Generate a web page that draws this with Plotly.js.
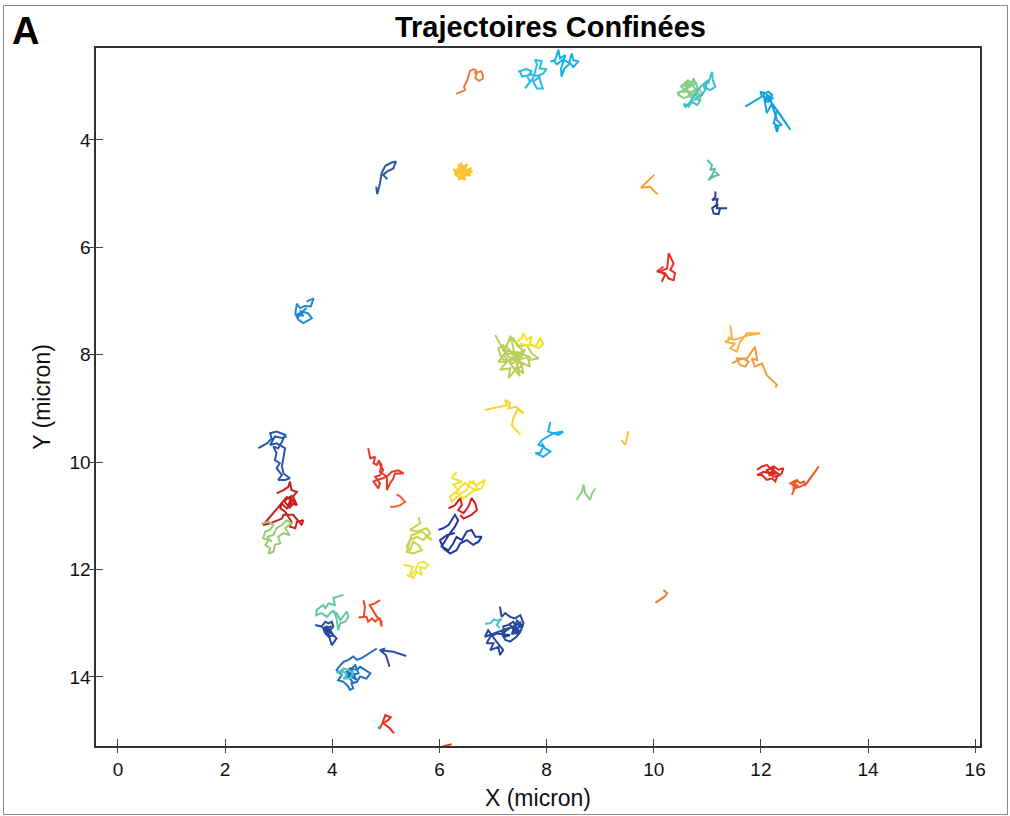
<!DOCTYPE html>
<html>
<head>
<meta charset="utf-8">
<script src="https://cdn.plot.ly/plotly-3.0.1.min.js"></script>
<style>
html,body{margin:0;padding:0;background:#fff;}
#chart{position:absolute;left:0;top:0;width:1010px;height:816px;}
#frame{position:absolute;left:3px;top:5px;width:1003px;height:808px;border:1px solid #8a8a8a;pointer-events:none;}
</style>
</head>
<body>
<div id="chart"></div>
<div id="frame"></div>
<script>
// ---- trajectory data (micron) ----
const orangeTopX = [6.31,6.48,6.46,6.52,6.57,6.63,6.68,6.67,6.78,6.81,6.81,6.74,6.67,6.70];
const orangeTopY = [3.14,3.07,3.01,2.88,2.72,2.68,2.70,2.75,2.72,2.79,2.86,2.90,2.85,2.75];
const cyanAX = [7.47,7.62,7.72,7.64,7.69,7.60,7.75,7.82,7.79,7.91,7.87,8.00,7.94,7.85,7.93,7.82,7.75,7.88,7.72,7.54,7.51];
const cyanAY = [2.73,2.68,2.72,2.82,2.91,3.04,2.85,2.60,2.51,2.53,2.67,2.68,2.76,2.80,3.04,3.04,2.91,2.82,2.78,2.82,2.73];
const cyanBX = [8.07,8.16,8.22,8.25,8.35,8.31,8.27,8.28,8.33,8.41,8.47,8.50,8.59,8.50,8.44,8.38,8.30,8.19,8.13];
const cyanBY = [2.54,2.51,2.32,2.48,2.42,2.57,2.67,2.82,2.67,2.60,2.39,2.51,2.54,2.64,2.57,2.54,2.51,2.59,2.51];
const greenNEX = [10.43,10.56,10.53,10.65,10.59,10.71,10.74,10.81,10.77,10.65,10.56,10.46,10.49,10.62,10.71,10.84,10.90,10.87,10.74,10.65,10.59,10.68,10.81,10.60,10.75,10.50,10.70,10.85,10.62,10.78];
const greenNEY = [3.13,3.07,2.98,2.88,3.01,2.98,2.85,3.01,3.13,3.19,3.22,3.16,3.10,3.10,3.10,3.04,3.13,3.22,3.26,3.13,2.94,2.91,2.94,3.05,3.20,3.00,2.95,3.15,3.20,3.05];
const tealNEX = [10.56,10.65,10.71,10.81,10.87,10.77,10.90,10.96,10.93,11.02,11.09,11.10,11.15,11.05,10.99,10.96,11.02,10.87,10.81,10.68,10.59,10.56];
const tealNEY = [3.32,3.38,3.29,3.35,3.26,3.22,3.16,3.07,2.98,2.94,2.73,2.88,3.01,3.07,3.04,2.94,2.88,3.01,3.10,3.29,3.38,3.32];
const blueNEX = [11.71,12.02,11.99,12.08,12.14,12.21,12.17,12.11,12.08,12.05,12.11,12.21,12.55,12.30,12.24,12.33,12.30,12.27,12.39,12.30,12.17,12.05,12.18,12.10,12.22,12.12];
const blueNEY = [3.38,3.19,3.10,3.13,3.10,3.16,3.26,3.22,3.32,3.13,3.50,3.32,3.81,3.44,3.69,3.75,3.85,3.75,3.72,3.63,3.22,3.20,3.28,3.15,3.22,3.30];
const orangeVX = [10.01,9.76,9.93,10.07];
const orangeVY = [4.65,4.89,4.87,5.01];
const tealSmallX = [11.00,11.09,11.05,11.15,11.09,11.02,11.12,11.21,11.15];
const tealSmallY = [4.37,4.47,4.56,4.53,4.65,4.75,4.68,4.65,4.59];
const navySmallX = [11.15,11.15,11.09,11.19,11.17,11.09,11.12,11.21,11.24,11.37,11.18,11.19];
const navySmallY = [4.96,5.06,5.12,5.10,5.21,5.27,5.37,5.38,5.27,5.27,5.27,5.18];
const navyLeafX = [4.82,4.84,4.89,4.92,4.99,5.11,5.19,5.14,5.02,4.95,5.03];
const navyLeafY = [4.87,5.01,4.81,4.62,4.48,4.42,4.40,4.53,4.59,4.65,4.73];
const goldStarX = [6.42,6.25,6.55,6.35,6.48,6.30,6.60,6.40,6.52,6.28,6.58,6.45,6.36,6.62,6.42,6.33,6.50,6.40,6.47,6.27,6.56,6.44];
const goldStarY = [4.59,4.55,4.62,4.45,4.74,4.66,4.52,4.70,4.45,4.60,4.66,4.48,4.74,4.58,4.60,4.52,4.68,4.42,4.62,4.64,4.56,4.57];
const redMidX = [10.15,10.21,10.12,10.25,10.28,10.37,10.31,10.40,10.37,10.28,10.21,10.06,10.18];
const redMidY = [6.64,6.51,6.45,6.39,6.11,6.30,6.42,6.48,6.61,6.58,6.48,6.45,6.36];
const blueWX = [3.52,3.65,3.60,3.49,3.40,3.34,3.31,3.37,3.46,3.55,3.62,3.46,3.37,3.32,3.41,3.52,3.42,3.50,3.38,3.46,3.40];
const blueWY = [7.01,6.95,7.10,7.09,7.13,7.05,7.23,7.29,7.20,7.23,7.32,7.41,7.35,7.26,7.22,7.13,7.20,7.15,7.25,7.28,7.17];
const goldEX = [11.43,11.46,11.33,11.52,11.43,11.55,11.61,11.74,11.99,11.80,11.61,11.49,11.38];
const goldEY = [7.45,7.69,7.76,7.79,7.88,7.94,7.76,7.60,7.60,7.63,7.69,7.72,7.67];
const orangeEX = [11.46,11.58,11.68,11.77,11.71,11.61,11.55,11.74,11.89,11.93,11.83,11.89,12.02,12.11,12.30,12.27];
const orangeEY = [8.16,8.10,8.07,8.13,8.22,8.19,8.07,8.07,7.85,8.10,8.07,8.22,8.16,8.38,8.56,8.61];
const ygCenterX = [7.04,7.23,7.10,7.26,7.13,7.32,7.29,7.44,7.57,7.51,7.69,7.66,7.85,7.72,7.63,7.47,7.38,7.29,7.19,7.35,7.51,7.41,7.29,7.19,7.10,7.16,7.38,7.57,7.44,7.32,7.25,7.55,7.40,7.60,7.30,7.70,7.45,7.20,7.50,7.35];
const ygCenterY = [7.63,7.97,8.13,8.13,8.28,8.25,8.44,8.25,8.35,8.13,8.22,8.10,8.07,7.97,7.82,7.85,7.69,7.76,7.91,7.94,8.00,8.07,8.04,7.82,7.88,8.07,8.16,7.94,7.79,7.66,7.85,8.20,8.30,7.90,8.10,8.05,7.95,8.00,8.40,7.75];
const yellowCenterX = [7.44,7.54,7.57,7.63,7.72,7.69,7.79,7.88,7.94,7.85,7.75,7.63,7.51];
const yellowCenterY = [7.76,7.69,7.60,7.72,7.66,7.79,7.85,7.69,7.79,7.88,7.82,7.82,7.79];
const yellowMidX = [6.85,7.13,7.26,7.23,7.32,7.29,7.44,7.51,7.57,7.47,7.38,7.35,7.51];
const yellowMidY = [9.03,8.97,8.94,8.84,8.90,9.00,8.97,9.06,9.09,9.00,9.18,9.31,9.49];
const cyanMidX = [8.07,8.03,8.22,8.31,8.13,8.00,7.91,7.85,7.94,7.88,7.79,7.94,8.07,7.97,7.91];
const cyanMidY = [9.25,9.43,9.49,9.43,9.46,9.53,9.59,9.68,9.71,9.83,9.83,9.90,9.80,9.74,9.65];
const goldTickX = [9.53,9.47,9.40];
const goldTickY = [9.42,9.68,9.59];
const greenNX = [8.56,8.66,8.69,8.72,8.81,8.85,8.91];
const greenNY = [10.70,10.55,10.42,10.58,10.70,10.58,10.49];
const blueLX = [2.62,2.78,2.87,2.84,2.96,3.12,3.06,2.99,2.90,2.96,2.93,3.02,2.96,3.06,2.99,3.12,3.21,3.09,3.06,3.09,3.12,2.96,2.84,2.93,3.06,3.15];
const blueLY = [9.74,9.65,9.56,9.46,9.43,9.49,9.62,9.74,9.71,9.83,9.96,10.02,10.11,10.24,10.33,10.33,10.30,10.21,10.08,9.90,9.74,9.65,9.68,9.52,9.55,9.52];
const redLX = [2.96,3.09,3.18,3.21,3.24,3.34,3.27,3.34,3.24,3.15,3.06,3.03,3.12,3.18,3.24,3.21,3.31,3.34,3.46,3.43,3.27,3.09,3.06,2.84,2.71,3.15,3.30,3.20,3.10,3.25,3.18,3.28];
const redLY = [10.58,10.52,10.46,10.36,10.52,10.55,10.64,10.80,10.77,10.86,10.77,10.86,10.92,11.02,11.11,11.20,11.23,11.11,11.08,11.17,10.98,10.98,11.05,11.14,11.17,10.65,10.75,10.85,10.72,10.62,10.80,10.68];
const greenLX = [2.68,2.81,2.90,2.84,2.75,2.71,2.81,2.75,2.84,2.81,2.90,2.93,3.03,2.99,3.09,3.21,3.12,3.24,3.15,3.06,2.96,2.90,2.78,2.87];
const greenLY = [11.14,11.11,11.17,11.26,11.29,11.42,11.45,11.54,11.60,11.70,11.67,11.54,11.51,11.39,11.32,11.36,11.23,11.14,11.08,11.17,11.23,11.36,11.39,11.48];
const redCX = [4.67,4.71,4.80,4.77,4.83,4.86,4.95,4.89,4.80,4.89,4.86,4.77,4.83,4.95,5.05,5.11,5.23,5.33,5.17,5.14,5.08,5.02,5.02,4.89,4.92,4.86];
const redCY = [9.74,9.93,9.90,10.02,10.05,9.99,10.15,10.24,10.27,10.39,10.49,10.36,10.33,10.30,10.24,10.18,10.15,10.21,10.21,10.30,10.39,10.52,10.27,10.18,10.05,9.96];
const orangeCX = [5.08,5.17,5.27,5.36,5.27,5.20];
const orangeCY = [10.83,10.83,10.80,10.74,10.64,10.60];
const yellowCX = [6.32,6.23,6.42,6.26,6.35,6.20,6.23,6.39,6.51,6.57,6.70,6.85,6.79,6.67,6.57,6.48,6.39,6.32,6.45,6.57,6.70,6.63];
const yellowCY = [10.18,10.30,10.36,10.42,10.52,10.64,10.74,10.58,10.52,10.36,10.42,10.33,10.49,10.52,10.46,10.39,10.46,10.58,10.67,10.58,10.49,10.33];
const redC2X = [6.17,6.29,6.39,6.42,6.35,6.45,6.54,6.60,6.67,6.70,6.60,6.45,6.39];
const redC2Y = [10.86,10.80,10.67,10.80,10.89,10.95,10.83,10.67,10.77,10.89,10.98,11.05,10.98];
const navyCX = [5.98,6.07,6.17,6.23,6.29,6.35,6.29,6.20,6.11,6.04,6.17,6.26,6.32,6.42,6.51,6.60,6.67,6.79,6.73,6.63,6.51,6.39,6.32,6.20,6.07,6.01,6.14,6.29];
const navyCY = [11.26,11.23,11.17,11.08,10.98,11.08,11.20,11.32,11.45,11.57,11.64,11.51,11.39,11.45,11.29,11.26,11.39,11.39,11.48,11.54,11.45,11.51,11.64,11.70,11.60,11.45,11.36,11.32];
const ygCX = [5.61,5.64,5.45,5.58,5.76,5.83,5.70,5.58,5.45,5.39,5.45,5.51,5.61,5.67,5.51,5.39,5.48,5.67,5.86,5.73];
const ygCY = [11.02,11.14,11.26,11.29,11.23,11.32,11.45,11.39,11.45,11.57,11.64,11.48,11.54,11.64,11.70,11.67,11.36,11.29,11.45,11.36];
const yellowLowX = [5.33,5.51,5.45,5.51,5.58,5.67,5.64,5.73,5.79,5.70,5.61,5.55,5.45,5.39];
const yellowLowY = [11.91,11.95,12.07,12.16,12.04,12.10,11.95,11.98,11.91,11.85,11.88,12.01,12.13,12.10];
const redEX = [11.93,12.02,12.11,12.17,12.24,12.33,12.42,12.39,12.30,12.27,12.21,12.11,12.02,11.93,12.05,12.17,12.27,12.36,12.24,12.10,12.20,12.30,12.15,12.25];
const redEY = [10.14,10.08,10.05,10.11,10.08,10.14,10.11,10.21,10.27,10.36,10.30,10.33,10.24,10.24,10.18,10.21,10.18,10.24,10.27,10.15,10.12,10.20,10.25,10.10];
const orangeRedEX = [12.58,12.64,12.55,12.67,12.73,12.80,12.83,12.92,13.08,12.86,12.73,12.61,12.62,12.70,12.60,12.68];
const orangeRedEY = [10.61,10.46,10.39,10.33,10.39,10.36,10.42,10.30,10.08,10.39,10.46,10.49,10.42,10.45,10.38,10.36];
const orangeSX = [10.03,10.21,10.25,10.18];
const orangeSY = [12.62,12.50,12.44,12.38];
const tealSWX = [4.21,4.02,4.05,3.93,3.87,3.83,3.71,3.70,3.80,3.90,3.99,4.08,4.15,4.21,4.27,4.30,4.24,4.15,4.11,4.08,4.02];
const tealSWY = [12.47,12.53,12.66,12.63,12.72,12.66,12.75,12.85,12.81,12.88,12.78,12.81,12.94,12.85,12.78,12.88,12.97,13.00,13.13,12.91,12.75];
const navySWX = [3.68,3.80,3.87,3.93,3.99,4.02,3.96,4.02,3.93,3.87,3.83,3.90,3.96,4.08,3.99,3.90,3.98,3.86,3.95,3.92,3.85,3.96,3.88,3.94,3.84];
const navySWY = [13.03,13.06,12.97,13.00,12.97,13.06,13.13,13.22,13.25,13.19,13.09,13.06,13.16,13.28,13.41,13.10,13.05,13.15,13.20,13.08,13.12,13.14,13.05,13.18,13.16];
const redSWX = [4.58,4.61,4.59,4.49,4.64,4.67,4.74,4.80,4.86,4.92,4.92,4.89,4.83,4.70,4.80,4.89];
const redSWY = [12.57,12.69,12.88,12.89,12.88,12.97,12.91,12.97,12.91,12.97,13.06,12.91,12.88,12.66,12.63,12.57];
const blueSWX = [4.83,4.64,4.55,4.46,4.39,4.30,4.21,4.15,4.08,4.18,4.11,4.21,4.30,4.33,4.39,4.36,4.46,4.52,4.64,4.71,4.61,4.52,4.46,4.33,4.27,4.36,4.49,4.43,4.30,4.40,4.25,4.35,4.45,4.28,4.38];
const blueSWY = [13.47,13.59,13.65,13.68,13.62,13.68,13.72,13.78,13.87,13.96,14.06,14.09,14.18,14.24,14.21,14.12,14.09,13.99,14.03,13.93,13.87,13.81,13.87,13.84,13.90,13.96,13.93,13.78,13.90,13.95,14.00,13.85,14.05,13.95,14.10];
const tealSW2X = [4.08,4.18,4.27,4.21,4.33,4.39,4.30,4.21,4.15];
const tealSW2Y = [13.93,13.87,13.96,14.03,14.03,13.93,13.87,13.84,13.99];
const navyArrowX = [5.38,5.14,4.89,4.99,4.89,5.00,5.07];
const navyArrowY = [13.61,13.53,13.50,13.47,13.50,13.59,13.81];
const tealSX = [6.85,6.95,7.01,7.10,7.16,7.07,7.13];
const tealSY = [13.01,13.00,12.93,12.95,12.91,13.03,13.09];
const navySX = [7.13,7.16,7.23,7.32,7.41,7.51,7.57,7.51,7.44,7.32,7.23,7.16,7.26,7.35,7.44,7.38,7.29,7.19,7.23,7.32,7.07,6.95,6.88,7.01,6.95,7.10,7.13,7.19,7.04,6.91,6.85,7.40,7.50,7.35,7.45,7.55,7.38,7.48,7.30,7.42,7.52,7.36];
const navySY = [12.69,12.88,12.81,12.88,12.91,12.85,13.00,13.16,13.25,13.34,13.31,13.19,13.13,13.06,13.09,12.97,13.03,13.06,13.25,13.22,13.19,13.25,13.37,13.37,13.50,13.44,13.59,13.50,13.31,13.13,13.25,13.05,13.15,13.20,12.95,13.05,13.12,13.22,13.00,13.18,12.98,13.08];
const redBX = [4.88,4.94,4.99,5.09,5.05,4.95,5.08,5.15];
const redBY = [14.97,14.85,14.71,14.75,14.80,14.86,14.96,15.05];
const cyanBotX = [4.86,4.88];
const cyanBotY = [14.92,14.97];
const redEdgeX = [6.01,6.14,6.23];
const redEdgeY = [15.31,15.27,15.25];

// series list: data + colour
const seriesX = [orangeTopX,cyanAX,cyanBX,greenNEX,tealNEX,blueNEX,orangeVX,tealSmallX,navySmallX,navyLeafX,goldStarX,redMidX,blueWX,goldEX,orangeEX,ygCenterX,yellowCenterX,yellowMidX,cyanMidX,goldTickX,greenNX,blueLX,redLX,greenLX,redCX,orangeCX,yellowCX,redC2X,navyCX,ygCX,yellowLowX,redEX,orangeRedEX,orangeSX,tealSWX,navySWX,redSWX,blueSWX,tealSW2X,navyArrowX,tealSX,navySX,redBX,cyanBotX,redEdgeX];
const seriesY = [orangeTopY,cyanAY,cyanBY,greenNEY,tealNEY,blueNEY,orangeVY,tealSmallY,navySmallY,navyLeafY,goldStarY,redMidY,blueWY,goldEY,orangeEY,ygCenterY,yellowCenterY,yellowMidY,cyanMidY,goldTickY,greenNY,blueLY,redLY,greenLY,redCY,orangeCY,yellowCY,redC2Y,navyCY,ygCY,yellowLowY,redEY,orangeRedEY,orangeSY,tealSWY,navySWY,redSWY,blueSWY,tealSW2Y,navyArrowY,tealSY,navySY,redBY,cyanBotY,redEdgeY];
const seriesColor = ['#f47a38','#28bce8','#12b0e6','#88cc8c','#3cbfd0','#10a2e0','#f8a030','#5cc0a8','#283e98','#2a58a8','#fcc432','#e83020','#2088d0','#f8b040','#f89838','#b8d058','#f8e020','#fcd430','#18b0e8','#fcc040','#90cc88','#2858b0','#c81e1e','#98cc78','#e83828','#f46030','#f4e030','#d82020','#2038a0','#c8d448','#e8e440','#e02820','#f05a28','#f47a30','#60c8a8','#284aa0','#f04828','#2070c0','#50c0c8','#2a4ea8','#48c0d8','#2848a0','#e83020','#20b0e0','#e83020'];

const xRange = [-0.41, 16.09];
const yRange = [15.285, 2.287];
const xTicks = [0,2,4,6,8,10,12,14,16];
const yTicks = [4,6,8,10,12,14];

const traces = seriesX.map((xs, i) => ({
  type: 'scatter', mode: 'lines', x: xs, y: seriesY[i],
  line: {color: seriesColor[i], width: 2}, hoverinfo: 'skip', showlegend: false
}));
// empty trace on the overlay axes (used only for outward tick marks)
traces.push({type: 'scatter', mode: 'lines', x: [], y: [], xaxis: 'x2', yaxis: 'y2', showlegend: false, hoverinfo: 'skip'});

const font = 'Liberation Sans, Arial, Helvetica, sans-serif';
const tickColor = '#444';
const layout = {
  width: 1010, height: 816,
  margin: {l: 96, r: 30, t: 48, b: 70},
  paper_bgcolor: '#ffffff', plot_bgcolor: '#ffffff',
  font: {family: font, size: 19, color: '#111'},
  title: {text: '<b>Trajectoires Confinées</b>', font: {family: font, size: 29, color: '#000'}, x: 0.545, xanchor: 'center', y: 0.967, yanchor: 'middle'},
  xaxis: {
    range: xRange, tickvals: xTicks, ticktext: xTicks.map(String),
    ticks: 'inside', ticklen: 7, tickwidth: 1, tickcolor: tickColor,
    showline: true, linecolor: '#333', linewidth: 1.6, mirror: true,
    showgrid: false, zeroline: false, ticklabelstandoff: 6,
    tickfont: {family: font, size: 19, color: '#111'},
    title: {text: 'X (micron)', font: {family: font, size: 23, color: '#111'}, standoff: 10}
  },
  yaxis: {
    range: yRange, tickvals: yTicks, ticktext: yTicks.map(String),
    ticks: 'inside', ticklen: 7, tickwidth: 1, tickcolor: tickColor,
    showline: true, linecolor: '#333', linewidth: 1.6, mirror: true,
    showgrid: false, zeroline: false,
    tickfont: {family: font, size: 19, color: '#111'},
    title: {text: 'Y (micron)', font: {family: font, size: 23, color: '#111'}, standoff: 12}
  },
  xaxis2: {
    overlaying: 'x', anchor: 'y2', side: 'bottom', range: xRange, tickvals: xTicks,
    ticks: 'outside', ticklen: 6, tickwidth: 1, tickcolor: tickColor,
    showticklabels: false, showline: false, showgrid: false, zeroline: false
  },
  yaxis2: {
    overlaying: 'y', anchor: 'x2', side: 'left', range: yRange, tickvals: yTicks,
    ticks: 'outside', ticklen: 6, tickwidth: 1, tickcolor: tickColor,
    showticklabels: false, showline: false, showgrid: false, zeroline: false
  },
  annotations: [{
    text: '<b>A</b>', xref: 'paper', yref: 'paper', x: -0.097, y: 1.025,
    xanchor: 'left', yanchor: 'middle', showarrow: false,
    font: {family: font, size: 38, color: '#000'}
  }]
};

Plotly.newPlot('chart', traces, layout, {displayModeBar: false, staticPlot: true});
</script>
</body>
</html>
